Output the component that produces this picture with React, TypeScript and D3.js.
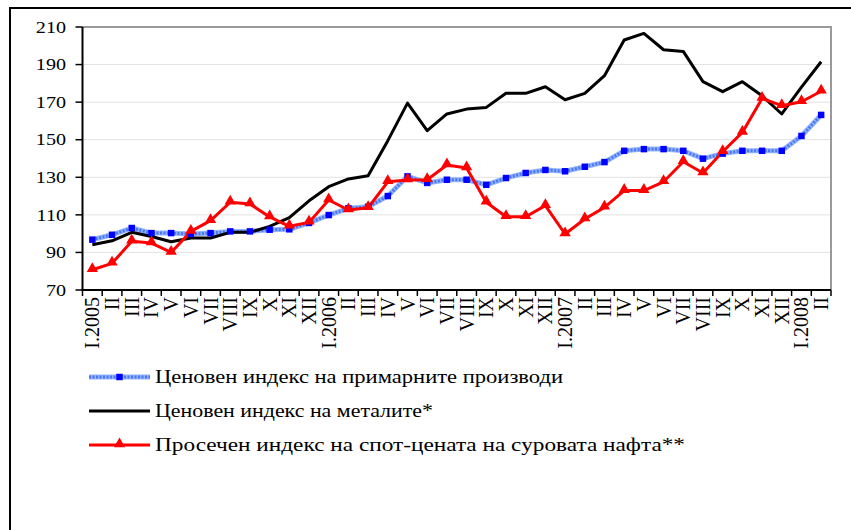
import * as d3 from 'd3';
import React, { useRef, useEffect } from 'react';

const months = [
  'I.2005', 'II', 'III', 'IV', 'V', 'VI', 'VII', 'VIII', 'IX', 'X', 'XI', 'XII',
  'I.2006', 'II', 'III', 'IV', 'V', 'VI', 'VII', 'VIII', 'IX', 'X', 'XI', 'XII',
  'I.2007', 'II', 'III', 'IV', 'V', 'VI', 'VII', 'VIII', 'IX', 'X', 'XI', 'XII',
  'I.2008', 'II',
];

// primary commodities price index
const primary = [
  96.8, 99.4, 103, 100.3, 100.3, 99.8, 100.3, 101.2, 101.2, 102.1, 102.3, 105.7,
  109.9, 113.5, 114.3, 120, 130.5, 127, 128.7, 128.7, 126, 129.6, 132.3, 133.9,
  133.2, 135.6, 138.1, 144.1, 145, 145, 144.1, 139.9, 142.6, 144.1, 144.1, 144.1,
  152, 163.2,
];

// metals price index
const metals = [
  94.1, 96.2, 100.7, 98.5, 95.7, 97.7, 97.7, 100.7, 100.7, 103.9, 108.5, 117.5,
  125, 129.1, 130.8, 149.5, 169.5, 154.8, 163.7, 166.3, 167.2, 174.7, 174.7, 178.2,
  171.3, 174.7, 184.1, 203.1, 206.6, 197.9, 197, 180.9, 175.6, 180.9, 173.4, 163.7,
  178, 191.5,
];

// crude oil spot price index
const oil = [
  80.8, 84.2, 95.9, 95, 90, 101.2, 106.9, 116.7, 115.8, 108.9, 103.9, 106,
  117.9, 112.6, 113.8, 127.6, 128.6, 128.7, 136.5, 134.9, 116.7, 109, 109, 114.9,
  99.8, 107.8, 114, 122.9, 122.9, 127.6, 138.3, 132.3, 143.6, 153.9, 172, 168.1,
  170.2, 175.8,
];

const yTicks = [70, 90, 110, 130, 150, 170, 190, 210];

const legendLabels = [
  'Ценовен индекс на примарните производи',
  'Ценовен индекс на металите*',
  'Просечен индекс на спот-цената на суровата нафта**',
];
const legendWidths = [408, 278, 530];

const W = 851;
const H = 530;
const FONT = '"Liberation Serif", "Times New Roman", serif';
const SX = 1.22; // the picture is stretched sideways

const Chart = () => {
  const ref = useRef<SVGSVGElement>(null);

  const draw = () => {
    const svg = d3.select(ref.current);
    svg.selectAll('*').remove();

    const left = 82.5, right = 831, top = 27, bottom = 290;

    const x = d3.scaleBand<number>()
      .domain(months.map((_, i) => i))
      .range([left, right]);
    const y = d3.scaleLinear().domain([70, 210]).range([bottom, top]);
    const cx = (i: number) => (x(i) as number) + x.bandwidth() / 2;

    // outer frame
    svg.append('path')
      .attr('d', `M10,${H} V8 H${W}`)
      .attr('fill', 'none')
      .attr('stroke', '#000')
      .attr('stroke-width', 2);

    // grid
    svg.append('g').selectAll('line')
      .data(yTicks.filter((t) => t !== 70 && t !== 210))
      .enter().append('line')
      .attr('x1', left).attr('x2', right)
      .attr('y1', (d) => y(d)).attr('y2', (d) => y(d))
      .attr('stroke', '#e2e2e2')
      .attr('stroke-width', 1);

    // plot border (top + right)
    svg.append('path')
      .attr('d', `M${left},${top} H${right} V${bottom}`)
      .attr('fill', 'none')
      .attr('stroke', '#9a9a9a')
      .attr('stroke-width', 2);

    // y axis
    const yAxis = svg.append('g');
    yAxis.append('line')
      .attr('x1', left).attr('x2', left)
      .attr('y1', top).attr('y2', bottom)
      .attr('stroke', '#000').attr('stroke-width', 2);
    yAxis.selectAll('line.tick')
      .data(yTicks).enter().append('line')
      .attr('class', 'tick')
      .attr('x1', left - 7).attr('x2', left)
      .attr('y1', (d) => y(d)).attr('y2', (d) => y(d))
      .attr('stroke', '#000').attr('stroke-width', 1.5);
    yAxis.selectAll('text')
      .data(yTicks).enter().append('text')
      .attr('transform', (d) => `translate(66,${y(d)}) scale(${SX},1)`)
      .attr('dy', '0.35em')
      .attr('text-anchor', 'end')
      .attr('font-family', FONT)
      .attr('font-size', 16.5)
      .text((d) => d);

    // x axis
    const xAxis = svg.append('g');
    xAxis.append('line')
      .attr('x1', left - 1).attr('x2', right)
      .attr('y1', bottom).attr('y2', bottom)
      .attr('stroke', '#000').attr('stroke-width', 2);
    xAxis.selectAll('line.tick')
      .data(d3.range(months.length + 1)).enter().append('line')
      .attr('class', 'tick')
      .attr('x1', (i) => left + i * x.bandwidth())
      .attr('x2', (i) => left + i * x.bandwidth())
      .attr('y1', bottom).attr('y2', bottom + 6)
      .attr('stroke', '#000').attr('stroke-width', 1.5);
    xAxis.selectAll('text')
      .data(months).enter().append('text')
      .attr('transform', (_, i) => `translate(${cx(i)},${bottom + 7}) rotate(-90)`)
      .attr('dy', '0.35em')
      .attr('text-anchor', 'end')
      .attr('font-family', FONT)
      .attr('font-size', 20)
      .text((d) => d);

    const line = d3.line<number>()
      .x((_, i) => cx(i))
      .y((d) => y(d));

    // primary: light blue patterned line with blue squares
    svg.append('path').datum(primary)
      .attr('d', line)
      .attr('fill', 'none')
      .attr('stroke', '#94b4ff')
      .attr('stroke-width', 5)
      .attr('stroke-linejoin', 'round');
    svg.append('path').datum(primary)
      .attr('d', line)
      .attr('fill', 'none')
      .attr('stroke', '#4a78f2')
      .attr('stroke-width', 3)
      .attr('stroke-dasharray', '2,1.5');

    // metals
    svg.append('path').datum(metals)
      .attr('d', line)
      .attr('fill', 'none')
      .attr('stroke', '#000')
      .attr('stroke-width', 3)
      .attr('stroke-linejoin', 'round');

    // oil
    svg.append('path').datum(oil)
      .attr('d', line)
      .attr('fill', 'none')
      .attr('stroke', '#ff0000')
      .attr('stroke-width', 3)
      .attr('stroke-linejoin', 'round');

    const square = d3.symbol().type(d3.symbolSquare).size(42);
    const triangle = d3.symbol().type(d3.symbolTriangle).size(55);

    svg.append('g').selectAll('path')
      .data(primary).enter().append('path')
      .attr('d', square)
      .attr('transform', (d, i) => `translate(${cx(i)},${y(d)})`)
      .attr('fill', '#0000ff');

    svg.append('g').selectAll('path')
      .data(oil).enter().append('path')
      .attr('d', triangle)
      .attr('transform', (d, i) => `translate(${cx(i)},${y(d) - 1})`)
      .attr('fill', '#ff0000');

    // legend
    const legend = svg.append('g');
    const rowY = [377, 411, 445];
    const lx0 = 89, lx1 = 150, tx = 155;

    legend.append('line')
      .attr('x1', lx0).attr('x2', lx1).attr('y1', rowY[0]).attr('y2', rowY[0])
      .attr('stroke', '#94b4ff').attr('stroke-width', 5);
    legend.append('line')
      .attr('x1', lx0).attr('x2', lx1).attr('y1', rowY[0]).attr('y2', rowY[0])
      .attr('stroke', '#4a78f2').attr('stroke-width', 3).attr('stroke-dasharray', '2,1.5');
    legend.append('path')
      .attr('d', square)
      .attr('transform', `translate(${(lx0 + lx1) / 2},${rowY[0]})`)
      .attr('fill', '#0000ff');

    legend.append('line')
      .attr('x1', lx0).attr('x2', lx1).attr('y1', rowY[1]).attr('y2', rowY[1])
      .attr('stroke', '#000').attr('stroke-width', 3);

    legend.append('line')
      .attr('x1', lx0).attr('x2', lx1).attr('y1', rowY[2]).attr('y2', rowY[2])
      .attr('stroke', '#ff0000').attr('stroke-width', 3);
    legend.append('path')
      .attr('d', triangle)
      .attr('transform', `translate(${(lx0 + lx1) / 2},${rowY[2] - 1})`)
      .attr('fill', '#ff0000');

    legend.selectAll('text')
      .data(legendLabels).enter().append('text')
      .attr('x', tx)
      .attr('y', (_, i) => rowY[i])
      .attr('dy', '0.35em')
      .attr('font-family', FONT)
      .attr('font-size', 18.5)
      .attr('textLength', (_, i) => legendWidths[i])
      .attr('lengthAdjust', 'spacingAndGlyphs')
      .text((d) => d);
  };

  useEffect(() => {
    draw();
  }, []);

  return (
    <svg
      ref={ref}
      width={W}
      height={H}
      style={{ position: 'absolute', left: 0, top: 0, background: '#fff' }}
    />
  );
};

export default function App() {
  return <Chart />;
}
